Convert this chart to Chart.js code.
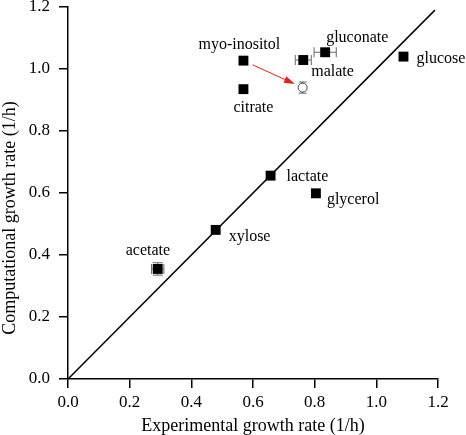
<!DOCTYPE html>
<html>
<head>
<meta charset="utf-8">
<script src="https://cdn.jsdelivr.net/npm/chart.js@4"></script>
<style>
  html, body { margin: 0; padding: 0; background: #fff; }
  #wrap { width: 466px; height: 435px; position: relative; }
</style>
</head>
<body>
<div id="wrap"><canvas id="chart"></canvas></div>
<script>
const ctx = document.getElementById("chart");

const substrates = [
  "acetate", "xylose", "lactate", "glycerol", "citrate",
  "myo-inositol", "malate", "gluconate", "glucose",
];
const experimental = [0.291, 0.479, 0.657, 0.804, 0.569, 0.569, 0.763, 0.834, 1.088];
const computational = [0.355, 0.481, 0.656, 0.599, 0.935, 1.027, 1.029, 1.054, 1.04];
const experimentalErr = [0.02, 0, 0, 0, 0, 0, 0.026, 0.036, 0];
const computationalErr = [0.02, 0, 0, 0, 0, 0, 0, 0, 0];

// myo-inositol after the model fix (open circle, red arrow)
const correctedExp = [0.761];
const correctedComp = [0.94];
const correctedErr = [0.018];

const diagonal = [0, 1.19];

const xTitle = "Experimental growth rate (1/h)";
const yTitle = "Computational growth rate (1/h)";

const serif = '"Liberation Serif", "Times New Roman", serif';

// label placement in pixels relative to each point (left edge, middle)
const labelOffsets = {
  acetate: [-32, -18],
  xylose: [13, 7],
  lactate: [16, 1],
  glycerol: [11, 6],
  citrate: [-10, 19],
  "myo-inositol": [-45, -16],
  malate: [8, 12],
  gluconate: [1, -14],
  glucose: [13, 2],
};

function errorBars(chart, xs, ys, xe, ye, cap) {
  const { ctx, scales: { x, y } } = chart;
  ctx.save();
  ctx.strokeStyle = "#666";
  ctx.lineWidth = 1;
  xs.forEach((v, i) => {
    const px = x.getPixelForValue(v);
    const py = y.getPixelForValue(ys[i]);
    ctx.beginPath();
    if (xe[i]) {
      const l = x.getPixelForValue(v - xe[i]);
      const r = x.getPixelForValue(v + xe[i]);
      ctx.moveTo(l, py); ctx.lineTo(r, py);
      ctx.moveTo(l, py - cap); ctx.lineTo(l, py + cap);
      ctx.moveTo(r, py - cap); ctx.lineTo(r, py + cap);
    }
    if (ye[i]) {
      const t = y.getPixelForValue(ys[i] + ye[i]);
      const b = y.getPixelForValue(ys[i] - ye[i]);
      ctx.moveTo(px, t); ctx.lineTo(px, b);
      ctx.moveTo(px - cap, t); ctx.lineTo(px + cap, t);
      ctx.moveTo(px - cap, b); ctx.lineTo(px + cap, b);
    }
    ctx.stroke();
  });
  ctx.restore();
}

const decorations = {
  id: "decorations",
  beforeDatasetsDraw(chart) {
    errorBars(chart, experimental, computational, experimentalErr, computationalErr, 5);
    errorBars(chart, correctedExp, correctedComp, [0], correctedErr, 4);
  },
  afterDatasetsDraw(chart) {
    const { ctx, scales: { x, y } } = chart;
    ctx.save();
    ctx.fillStyle = "#000";
    ctx.font = "16px " + serif;
    ctx.textAlign = "left";
    ctx.textBaseline = "middle";
    substrates.forEach((name, i) => {
      const [dx, dy] = labelOffsets[name];
      ctx.fillText(name, x.getPixelForValue(experimental[i]) + dx, y.getPixelForValue(computational[i]) + dy);
    });

    // arrow from myo-inositol to corrected value
    const k = substrates.indexOf("myo-inositol");
    const x0 = x.getPixelForValue(experimental[k]), y0 = y.getPixelForValue(computational[k]);
    const x1 = x.getPixelForValue(correctedExp[0]), y1 = y.getPixelForValue(correctedComp[0]);
    const len = Math.hypot(x1 - x0, y1 - y0);
    const ux = (x1 - x0) / len, uy = (y1 - y0) / len;
    const sx = x0 + ux * 10, sy = y0 + uy * 10;
    const ex = x1 - ux * 8.5, ey = y1 - uy * 8.5;
    ctx.strokeStyle = "#e8201c";
    ctx.fillStyle = "#e8201c";
    ctx.lineWidth = 1;
    ctx.beginPath();
    ctx.moveTo(sx, sy);
    ctx.lineTo(ex - ux * 8, ey - uy * 8);
    ctx.stroke();
    ctx.beginPath();
    ctx.moveTo(ex, ey);
    ctx.lineTo(ex - ux * 11 - uy * 3.5, ey - uy * 11 + ux * 3.5);
    ctx.lineTo(ex - ux * 11 + uy * 3.5, ey - uy * 11 - ux * 3.5);
    ctx.closePath();
    ctx.fill();

    // y axis title, centred on the figure height
    ctx.fillStyle = "#000";
    ctx.font = "18px " + serif;
    ctx.textAlign = "center";
    ctx.translate(10, 218);
    ctx.rotate(-Math.PI / 2);
    ctx.fillText(yTitle, 0, 0);
    ctx.restore();
  },
};

const axisCommon = {
  type: "linear",
  min: 0,
  max: 1.2,
  border: { display: true, color: "#000", width: 1.5 },
  grid: { drawOnChartArea: false, color: "#000", lineWidth: 1.5, tickLength: 9 },
  ticks: {
    stepSize: 0.2,
    color: "#000",
    font: { family: serif, size: 17 },
    callback: (v) => v.toFixed(1),
  },
};

new Chart(ctx, {
  type: "scatter",
  data: {
    datasets: [
      {
        label: "substrates",
        data: experimental.map((v, i) => ({ x: v, y: computational[i] })),
        pointStyle: "rect",
        pointRadius: 7,
        backgroundColor: "#000",
        borderColor: "#000",
        borderWidth: 0,
      },
      {
        label: "corrected",
        data: correctedExp.map((v, i) => ({ x: v, y: correctedComp[i] })),
        pointStyle: "circle",
        pointRadius: 4.5,
        backgroundColor: "#fff",
        borderColor: "#444",
        borderWidth: 1,
      },
      {
        label: "y = x",
        data: diagonal.map((v) => ({ x: v, y: v })),
        showLine: true,
        pointRadius: 0,
        borderColor: "#000",
        borderWidth: 1.5,
      },
    ],
  },
  options: {
    responsive: true,
    maintainAspectRatio: false,
    animation: false,
    layout: { padding: { left: 0, right: 28, top: 7, bottom: 0 } },
    plugins: { legend: { display: false }, tooltip: { enabled: false } },
    scales: {
      x: {
        ...axisCommon,
        position: "bottom",
        ticks: { ...axisCommon.ticks, padding: 4 },
        title: {
          display: true,
          text: xTitle,
          color: "#000",
          font: { family: serif, size: 18, lineHeight: 1 },
          padding: { top: 0, bottom: 0 },
        },
        afterFit(scale) {
          scale.height = 56;
          scale.paddingLeft = 0;
          scale.paddingRight = 0;
        },
      },
      y: {
        ...axisCommon,
        position: "left",
        ticks: { ...axisCommon.ticks, padding: 9 },
        afterFit(scale) {
          scale.width = 68;
          scale.paddingTop = 0;
          scale.paddingBottom = 0;
        },
      },
    },
  },
  plugins: [decorations],
});
</script>
</body>
</html>
